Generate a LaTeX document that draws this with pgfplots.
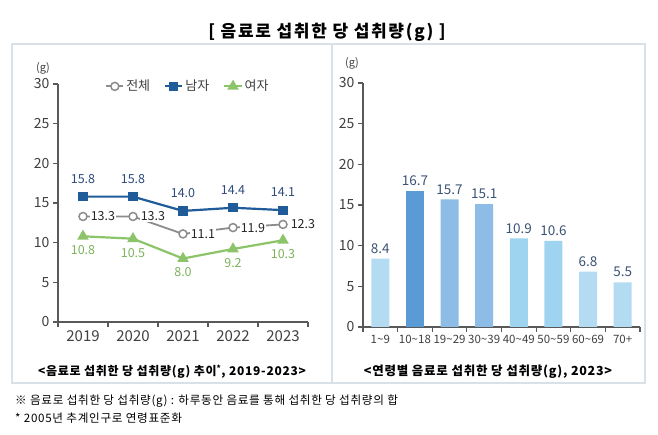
\documentclass[border=0pt]{standalone}
\usepackage{fontspec}
\setmainfont{Noto Sans CJK KR}
\usepackage{pgfplots}
\pgfplotsset{compat=1.18}
\definecolor{boxline}{HTML}{D8E0E8}
\definecolor{axgray}{HTML}{595959}
\definecolor{txtgray}{HTML}{404040}
\definecolor{male}{HTML}{1F5C99}
\definecolor{maletxt}{HTML}{2E4A7D}
\definecolor{allc}{HTML}{8C8C8C}
\definecolor{female}{HTML}{8CC46A}
\definecolor{femtxt}{HTML}{7DB35E}
\definecolor{barA}{HTML}{B3DCF2}
\definecolor{barB}{HTML}{5B9BD5}
\definecolor{barC}{HTML}{8DBDE6}
\definecolor{barD}{HTML}{9FD4F0}
\definecolor{bartxt}{HTML}{3B5375}
\newcommand\fs[1]{\fontsize{#1}{#1}\selectfont}
\newcommand\spaced[1]{\addfontfeature{LetterSpace=#1}}
\newcommand\onedec{\pgfmathprintnumber[fixed,fixed zerofill,precision=1]{\pgfplotspointmeta}}

\pgfplotsset{
  panel/.style={
    scale only axis,
    axis x line=bottom, axis y line=left,
    axis line style={-, axgray, line width=1.2pt},
    ymin=0, ymax=30, ytick={0,5,...,30},
    tick align=outside,
    major tick length=5pt, minor tick length=5pt,
    every tick/.style={axgray, line width=1.2pt},
    major x tick style={draw=none},
    yticklabel style={font=\fs{14}, text=txtgray},
    /pgf/number format/assume math mode=true,
    clip=false,
  }
}

\begin{document}
\begin{tikzpicture}[x=1pt,y=1pt]
\path[use as bounding box, fill=white] (0,0) rectangle (658,435);

% frame
\draw[boxline, line width=2.5pt] (12,52) rectangle (645,391);
\draw[boxline, line width=2.5pt] (332,52) -- (332,391);

\node[font=\bfseries\fs{17}\spaced{10}] at (327,403) {[ 음료로 섭취한 당 섭취량(g) ]};

% left panel: trend
\begin{axis}[panel, at={(58pt,113pt)}, anchor=south west, width=250pt, height=238pt,
  xmin=0.5, xmax=5.5, xtick={1,...,5},
  xticklabels={2019,2020,2021,2022,2023},
  minor xtick={0.5,1.5,...,5.5},
  xticklabel style={font=\fs{15}, text=txtgray},
  legend style={at={(0.52,0.99)}, anchor=center, draw=none, fill=none,
    font=\fs{13}, text=txtgray, legend columns=3,
    /tikz/every even column/.append style={column sep=12pt}},
]
\addplot[allc, line width=1.8pt, mark=*, mark size=4pt,
  mark options={fill=white, draw=allc, line width=1.5pt},
  nodes near coords=\onedec,
  every node near coord/.style={anchor=west, xshift=6pt, fill=white,
    inner sep=1pt, font=\fs{12.5}, text=black!85}]
  coordinates {(1,13.3) (2,13.3) (3,11.1) (4,11.9) (5,12.3)};
\addlegendentry{전체}
\addplot[male, line width=2.2pt, mark=square*, mark size=3.5pt,
  mark options={fill=male, draw=male},
  nodes near coords=\onedec,
  every node near coord/.style={anchor=center, yshift=18pt,
    font=\fs{12.5}, text=maletxt}]
  coordinates {(1,15.8) (2,15.8) (3,14.0) (4,14.4) (5,14.1)};
\addlegendentry{남자}
\addplot[female, line width=2.2pt, mark=triangle*, mark size=4.5pt,
  mark options={fill=female, draw=female},
  nodes near coords=\onedec,
  every node near coord/.style={anchor=center, yshift=-14pt,
    font=\fs{12.5}, text=femtxt}]
  coordinates {(1,10.8) (2,10.5) (3,8.0) (4,9.2) (5,10.3)};
\addlegendentry{여자}
\end{axis}
\node[font=\fs{11}, text=txtgray] at (43,367) {(g)};
\node[font=\bfseries\fs{12}\spaced{6}] at (172,63) {<음료로 섭취한 당 섭취량(g) 추이\textsuperscript{*}, 2019-2023>};

% right panel: by age
\begin{axis}[panel, at={(363pt,108pt)}, anchor=south west, width=277pt, height=244pt,
  xmin=-0.5, xmax=7.5, xtick={0,...,7},
  xticklabels={1\textasciitilde9,10\textasciitilde18,19\textasciitilde29,30\textasciitilde39,40\textasciitilde49,50\textasciitilde59,60\textasciitilde69,70+},
  minor xtick={-0.5,0.5,...,7.5},
  xticklabel style={font=\fs{11.5}, text=txtgray},
  every node near coord/.style={anchor=center, yshift=10pt, font=\fs{13.5}, text=bartxt},
]
\addplot[ybar, bar width=18pt, bar shift=0pt, fill=barA, draw=none, nodes near coords=\onedec]
  coordinates {(0,8.4) (6,6.8) (7,5.5)};
\addplot[ybar, bar width=18pt, bar shift=0pt, fill=barB, draw=none, nodes near coords=\onedec]
  coordinates {(1,16.7)};
\addplot[ybar, bar width=18pt, bar shift=0pt, fill=barC, draw=none, nodes near coords=\onedec]
  coordinates {(2,15.7) (3,15.1)};
\addplot[ybar, bar width=18pt, bar shift=0pt, fill=barD, draw=none, nodes near coords=\onedec]
  coordinates {(4,10.9) (5,10.6)};
\end{axis}
\node[font=\fs{11}, text=txtgray] at (352,372) {(g)};
\node[font=\bfseries\fs{12.5}\spaced{6}] at (488,63) {<연령별 음료로 섭취한 당 섭취량(g), 2023>};

% notes
\node[anchor=west, font=\fs{11.6}\spaced{6}, inner sep=0pt] at (15,34) {※ 음료로 섭취한 당 섭취량(g) : 하루동안 음료를 통해 섭취한 당 섭취량의 합};
\node[anchor=west, font=\fs{11.6}\spaced{6}, inner sep=0pt] at (15,17) {* 2005년 추계인구로 연령표준화};
\end{tikzpicture}
\end{document}
